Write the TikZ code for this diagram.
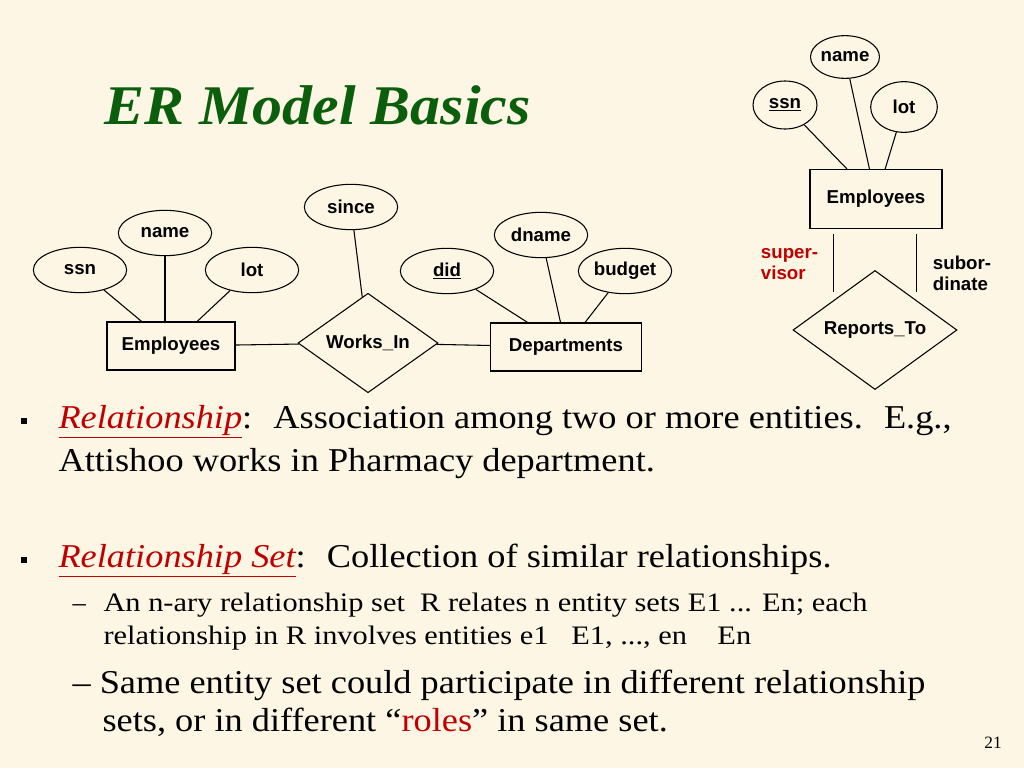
\documentclass[tikz,border=0pt]{standalone}
\usepackage{fontspec}
\setmainfont{Liberation Serif}
\newfontfamily\diagfont{Liberation Sans}
\usetikzlibrary{shapes.geometric}
\definecolor{paper}{HTML}{FDF6E4}
\definecolor{titlegreen}{HTML}{0B5E0B}
\definecolor{linkred}{HTML}{C00000}
\newcommand\widen[1]{\scalebox{1.09}[1]{#1}}
\tikzset{
  attr/.style={draw,ellipse,fill=paper,inner sep=0pt,minimum width=70pt,minimum height=34pt,font=\diagfont\bfseries\fontsize{14}{16}\selectfont},
  ent/.style={draw,rectangle,inner sep=2pt,font=\diagfont\bfseries\fontsize{14}{16}\selectfont},
  rel/.style={draw,diamond,inner sep=0pt,font=\diagfont\bfseries\fontsize{14}{16}\selectfont},
  body/.style={anchor=base west,inner sep=0pt,font=\fontsize{25}{29}\selectfont},
  small/.style={anchor=base west,inner sep=0pt,font=\fontsize{20}{24}\selectfont},
  bullet/.style={fill=black,inner sep=0pt,minimum size=5pt},
}
\begin{document}
\begin{tikzpicture}[x=0.75pt,y=-0.75pt,line width=0.8pt]
  \fill[paper] (0,0) rectangle (1024,768);
  \useasboundingbox (0,0) rectangle (1024,768);
  \node[anchor=base west,inner sep=0pt,text=titlegreen,font=\fontsize{42}{46}\selectfont\bfseries\itshape] (title) at (104,124) {\scalebox{1.07}[1]{ER Model Basics}};
  % left diagram
  \node[attr] (ssn) at (80,270) {ssn};
  \node[attr] (name) at (165,233) {name};
  \node[attr] (lot) at (252,270) {lot};
  \node[attr] (since) at (351,207) {since};
  \node[attr] (dname) at (541,235) {dname};
  \node[attr] (did) at (447,271) {\underline{did}};
  \node[attr] (budget) at (625,271) {budget};
  \node[ent,minimum width=96pt,minimum height=36pt] (emp) at (171,346) {Employees};
  \node[ent,minimum width=113pt,minimum height=36pt] (dept) at (566,347) {Departments};
  \node[rel,minimum width=105pt,minimum height=56pt] (works) at (368,343) {Works\_In};
  \draw (ssn) -- (emp);
  \draw (name) -- (name |- emp.north);
  \draw (lot) -- (emp);
  \draw (since) -- (works);
  \draw (emp) -- (works);
  \draw (works) -- (dept);
  \draw (did) -- (dept);
  \draw (dname) -- (dept);
  \draw (budget) -- (dept);
  % right diagram
  \node[attr,minimum width=46pt,minimum height=32pt] (name2) at (845,57) {name};
  \node[attr,minimum width=48pt,minimum height=36pt] (ssn2) at (785,105) {\underline{ssn}};
  \node[attr,minimum width=50pt,minimum height=38pt] (lot2) at (904,107) {lot};
  \node[ent,minimum width=99pt,minimum height=44pt] (emp2) at (876,199) {Employees};
  \node[rel,minimum width=123pt,minimum height=64pt] (rep) at (875,330) {Reports\_To};
  \draw (ssn2) -- (emp2);
  \draw (name2) -- (emp2);
  \draw (lot2) -- (emp2);
  \draw ([yshift=-4pt]emp2.south -| rep.north west) -- ([yshift=6pt]rep.north west);
  \draw ([yshift=-4pt]emp2.south -| rep.north east) -- ([yshift=6pt]rep.north east);
  \node[anchor=west,align=left,text=linkred,font=\diagfont\bfseries\fontsize{14}{16}\selectfont] (super) at (756,264) {super-\\visor};
  \node[anchor=west,align=left,font=\diagfont\bfseries\fontsize{14}{16}\selectfont] (subor) at (928,273) {subor-\\dinate};
  % bullets
  \node[bullet] (b1) at (24,421) {};
  \node[body] (t1) at (58,428) {\widen{\textcolor{linkred}{\itshape\underline{Relationship}}: \ Association among two or more entities. \ E.g.,}};
  \node[body] (t2) at (58,471) {\widen{Attishoo works in Pharmacy department.}};
  \node[bullet] (b2) at (24,560) {};
  \node[body] (t3) at (58,567) {\widen{\textcolor{linkred}{\itshape\underline{Relationship Set}}: \ Collection of similar relationships.}};
  \node[small] (d1) at (72,611) {--};
  \node[small] (t4) at (103,611) {\scalebox{1.14}[1]{An n-ary relationship set \ R relates n entity sets E1 ... En; each}};
  \node[small] (t5) at (103,644) {\scalebox{1.14}[1]{relationship in R involves entities e1 \ \ E1, ..., en \ \ \ En}};
  \node[body] (t6) at (72,693) {\widen{-- Same entity set could participate in different relationship}};
  \node[body] (t7) at (102,731) {\widen{sets, or in different ``\textcolor{linkred}{roles}'' in same set.}};
  \node[anchor=base,font=\fontsize{13}{15}\selectfont] (page) at (993,748) {21};
\end{tikzpicture}
\end{document}
